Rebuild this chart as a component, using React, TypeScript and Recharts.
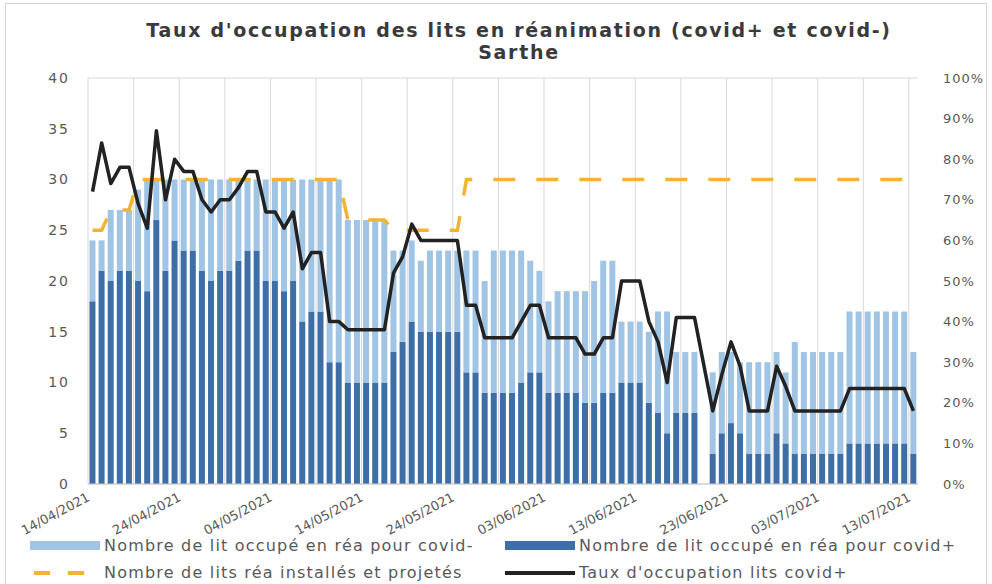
import React from "react"
import { Bar, CartesianGrid, ComposedChart, Line, XAxis, YAxis } from "recharts"

// one entry per day, 14/04/2021 -> 13/07/2021
const aprilDays = ["14", "15", "16", "17", "18", "19", "20", "21", "22", "23", "24", "25", "26", "27", "28", "29", "30"]
const mayDays = ["01", "02", "03", "04", "05", "06", "07", "08", "09", "10", "11", "12", "13", "14", "15", "16", "17", "18", "19", "20", "21", "22", "23", "24", "25", "26", "27", "28", "29", "30", "31"]
const juneDays = ["01", "02", "03", "04", "05", "06", "07", "08", "09", "10", "11", "12", "13", "14", "15", "16", "17", "18", "19", "20", "21", "22", "23", "24", "25", "26", "27", "28", "29", "30"]
const julyDays = ["01", "02", "03", "04", "05", "06", "07", "08", "09", "10", "11", "12", "13"]

const dates = [
  ...aprilDays.map((d) => `${d}/04/2021`),
  ...mayDays.map((d) => `${d}/05/2021`),
  ...juneDays.map((d) => `${d}/06/2021`),
  ...julyDays.map((d) => `${d}/07/2021`),
]

const labelDates = ["14/04/2021", "24/04/2021", "04/05/2021", "14/05/2021", "24/05/2021", "03/06/2021", "13/06/2021", "23/06/2021", "03/07/2021", "13/07/2021"]
const gridDates = ["14/04/2021", "19/04/2021", "24/04/2021", "29/04/2021", "04/05/2021", "09/05/2021", "14/05/2021", "19/05/2021", "24/05/2021", "29/05/2021", "03/06/2021", "08/06/2021", "13/06/2021", "18/06/2021", "23/06/2021", "28/06/2021", "03/07/2021", "08/07/2021", "13/07/2021"]

// lits occupés covid+ (bleu foncé)
const covidPlus = [
  18, 21, 20, 21, 21, 20, 19, 26, 21, 24, 23, 23, 21, 20, 21, 21, 22, 23, 23, 20,
  20, 19, 20, 16, 17, 17, 12, 12, 10, 10, 10, 10, 10, 13, 14, 16, 15, 15, 15, 15,
  15, 11, 11, 9, 9, 9, 9, 10, 11, 11, 9, 9, 9, 9, 8, 8, 9, 9, 10, 10,
  10, 8, 7, 5, 7, 7, 7, null, 3, 5, 6, 5, 3, 3, 3, 5, 4, 3, 3, 3,
  3, 3, 3, 4, 4, 4, 4, 4, 4, 4, 3,
]

// lits occupés covid- (bleu clair, empilé au-dessus)
const covidMinus = [
  6, 3, 7, 6, 6, 9, 11, 4, 9, 6, 7, 7, 9, 10, 9, 9, 8, 7, 7, 10,
  10, 11, 10, 14, 13, 13, 18, 18, 16, 16, 16, 16, 16, 10, 9, 8, 7, 8, 8, 8,
  8, 12, 12, 11, 14, 14, 14, 13, 11, 10, 9, 10, 10, 10, 11, 12, 13, 13, 6, 6,
  6, 7, 10, 12, 6, 6, 6, null, 8, 8, 7, 7, 9, 9, 9, 8, 7, 11, 10, 10,
  10, 10, 10, 13, 13, 13, 13, 13, 13, 13, 10,
]

// lits réa installés et projetés
const installed = [
  25, 25, 27, 27, 27, 30, 30, 30, 30, 30, 30, 30, 30, 30, 30, 30, 30, 30, 30, 30,
  30, 30, 30, 30, 30, 30, 30, 30, 26, 26, 26, 26, 26, 25, 25, 25, 25, 25, 25, 25,
  25, 30, 30, 30, 30, 30, 30, 30, 30, 30, 30, 30, 30, 30, 30, 30, 30, 30, 30, 30,
  30, 30, 30, 30, 30, 30, 30, 30, 30, 30, 30, 30, 30, 30, 30, 30, 30, 30, 30, 30,
  30, 30, 30, 30, 30, 30, 30, 30, 30, 30, 30,
]

// taux d'occupation lits covid+ (%)
const rate = [
  72, 84, 74, 78, 78, 69, 63, 87, 70, 80, 77, 77, 70, 67, 70, 70, 73, 77, 77, 67,
  67, 63, 67, 53, 57, 57, 40, 40, 38, 38, 38, 38, 38, 52, 56, 64, 60, 60, 60, 60,
  60, 44, 44, 36, 36, 36, 36, 40, 44, 44, 36, 36, 36, 36, 32, 32, 36, 36, 50, 50,
  50, 40, 35, 25, 41, 41, 41, null, 18, 27, 35, 29, 18, 18, 18, 29, 24, 18, 18, 18,
  18, 18, 18, 23.5, 23.5, 23.5, 23.5, 23.5, 23.5, 23.5, 18,
]

const leftTicks = [0, 5, 10, 15, 20, 25, 30, 35, 40]
const rightTicks = [0, 10, 20, 30, 40, 50, 60, 70, 80, 90, 100]

const data = dates.map((d, i) => ({
  date: d,
  plus: covidPlus[i],
  minus: covidMinus[i],
  installed: installed[i],
  rate: rate[i],
}))

const LIGHT = "#a0c5e4"
const DARK = "#3e6ea6"
const ORANGE = "#f2b432"
const BLACK = "#222222"
const TEXT = "#595959"
const FONT = "'DejaVu Sans', sans-serif"

function DateTick({ x, y, payload }: any) {
  if (!labelDates.includes(payload.value)) return <g />
  const tx = x - 2
  const ty = y + 8
  return (
    <text
      x={tx}
      y={ty}
      transform={`rotate(-28 ${tx} ${ty})`}
      textAnchor="end"
      fontSize={13}
      fontFamily={FONT}
      fill={TEXT}
    >
      {payload.value}
    </text>
  )
}

// vertical grid on the day boundaries, every 5 days
function gridX({ xAxis, offset }: any) {
  if (xAxis && typeof xAxis.scale === "function") {
    return gridDates.map((d) => xAxis.scale(d))
  }
  const step = offset.width / dates.length
  return gridDates.map((d) => offset.left + dates.indexOf(d) * step)
}

function LegendItem({ swatch, label }: { swatch: React.ReactNode; label: string }) {
  return (
    <div style={{ display: "flex", alignItems: "center", width: 475 }}>
      <div style={{ width: 74, display: "flex", justifyContent: "center" }}>{swatch}</div>
      <span style={{ marginLeft: 2 }}>{label}</span>
    </div>
  )
}

export default function App() {
  return (
    <div
      style={{
        position: "absolute",
        left: 0,
        top: 0,
        width: 992,
        height: 584,
        background: "#fff",
        fontFamily: FONT,
        overflow: "hidden",
      }}
    >
      <div
        style={{
          position: "absolute",
          left: 5,
          top: 3,
          width: 982,
          height: 600,
          border: "1px solid #d6d6d6",
          boxSizing: "border-box",
        }}
      />
      <div
        style={{
          position: "absolute",
          left: 0,
          width: 1038,
          top: 19,
          textAlign: "center",
          fontWeight: "bold",
          fontSize: 19,
          lineHeight: "22px",
          color: "#3a3a3a",
          letterSpacing: 1.7,
        }}
      >
        Taux d'occupation des lits en réanimation (covid+ et covid-)
        <br />
        Sarthe
      </div>

      <ComposedChart
        width={992}
        height={584}
        data={data}
        margin={{ top: 78, right: 0, bottom: 0, left: 0 }}
        barCategoryGap="16%"
        style={{ position: "absolute", left: 0, top: 0 }}
      >
        <CartesianGrid stroke="#d9d9d9" verticalCoordinatesGenerator={gridX} />
        <XAxis
          dataKey="date"
          ticks={gridDates}
          interval={0}
          height={100}
          tickLine={false}
          axisLine={{ stroke: "#c8c8c8" }}
          tick={<DateTick />}
        />
        <YAxis
          yAxisId="left"
          domain={[0, 40]}
          ticks={leftTicks}
          width={88}
          axisLine={false}
          tickLine={false}
          tickMargin={12}
          tick={{ fontSize: 14, fill: TEXT, fontFamily: FONT, letterSpacing: 2 }}
        />
        <YAxis
          yAxisId="right"
          orientation="right"
          domain={[0, 100]}
          ticks={rightTicks}
          width={74}
          axisLine={false}
          tickLine={false}
          tickMargin={19}
          tickFormatter={(v) => `${v}%`}
          tick={{ fontSize: 13, fill: TEXT, fontFamily: FONT, letterSpacing: 1 }}
        />
        <Bar yAxisId="left" dataKey="plus" stackId="lits" fill={DARK} isAnimationActive={false} />
        <Bar yAxisId="left" dataKey="minus" stackId="lits" fill={LIGHT} isAnimationActive={false} />
        <Line
          yAxisId="left"
          type="linear"
          dataKey="installed"
          stroke={ORANGE}
          strokeWidth={3.5}
          strokeDasharray="22 21"
          dot={false}
          activeDot={false}
          isAnimationActive={false}
        />
        <Line
          yAxisId="right"
          type="linear"
          dataKey="rate"
          stroke={BLACK}
          strokeWidth={3.5}
          strokeLinejoin="round"
          connectNulls
          dot={false}
          activeDot={false}
          isAnimationActive={false}
        />
      </ComposedChart>

      <div
        style={{
          position: "absolute",
          left: 28,
          top: 532,
          fontSize: 16,
          color: TEXT,
          letterSpacing: 1.2,
          lineHeight: "27px",
        }}
      >
        <div style={{ display: "flex" }}>
          <LegendItem
            swatch={<div style={{ width: 70, height: 9, background: LIGHT }} />}
            label="Nombre de lit occupé en réa pour covid-"
          />
          <LegendItem
            swatch={<div style={{ width: 70, height: 9, background: DARK }} />}
            label="Nombre de lit occupé en réa pour covid+"
          />
        </div>
        <div style={{ display: "flex" }}>
          <LegendItem
            swatch={
              <svg width={70} height={6}>
                <line x1={4} y1={3} x2={66} y2={3} stroke={ORANGE} strokeWidth={4} strokeDasharray="16 18" />
              </svg>
            }
            label="Nombre de lits réa installés et projetés"
          />
          <LegendItem
            swatch={<div style={{ width: 70, height: 4, background: BLACK }} />}
            label="Taux d'occupation lits covid+"
          />
        </div>
      </div>
    </div>
  )
}
